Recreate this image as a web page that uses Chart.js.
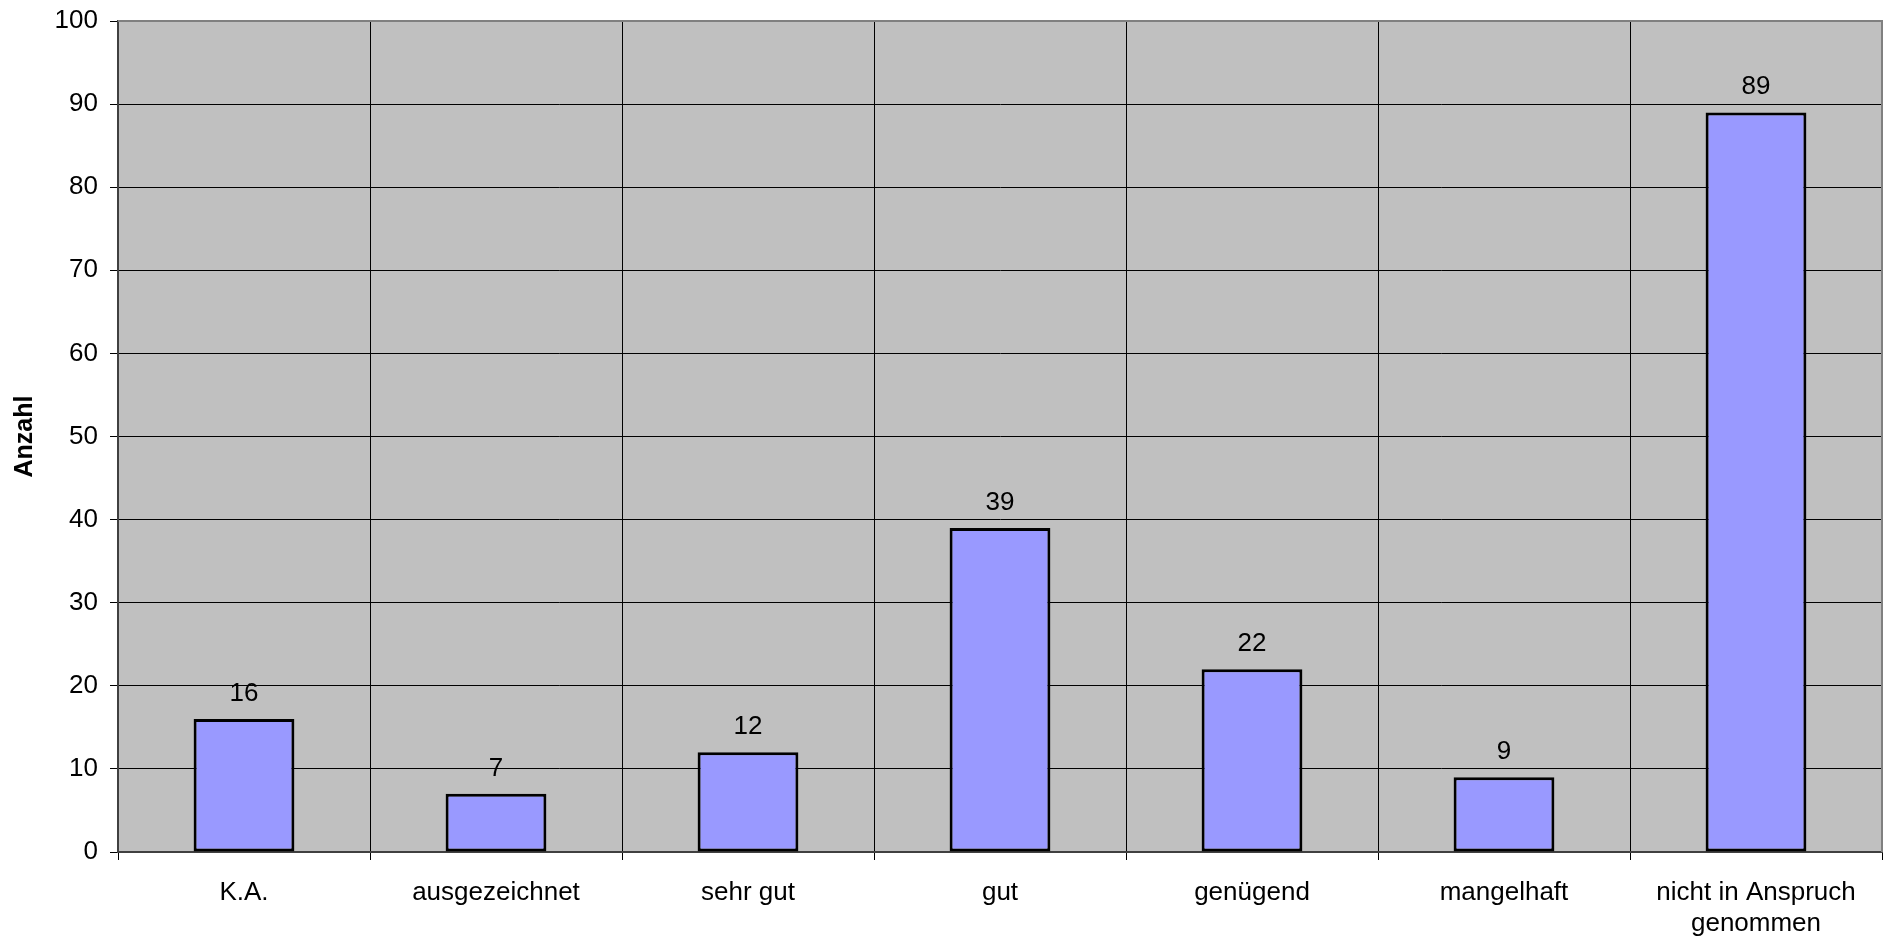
<!DOCTYPE html>
<html>
<head>
<meta charset="utf-8">
<script src="https://cdn.jsdelivr.net/npm/chart.js@4"></script>
<style>
  html, body { margin: 0; padding: 0; background: #fff; }
  #wrap { width: 1887px; height: 941px; position: relative; }
</style>
</head>
<body>
<div id="wrap"><canvas id="chart"></canvas></div>
<script>
const categories = ['K.A.', 'ausgezeichnet', 'sehr gut', 'gut', 'genügend', 'mangelhaft', ['nicht in Anspruch', 'genommen']];
const counts = [16, 7, 12, 39, 22, 9, 89];
const yMin = 0;
const yMax = 100;
const yStep = 10;
const yTitle = 'Anzahl';

const FONT = "'Liberation Sans', Arial, sans-serif";

// grey plot background + grey frame on top/right
const plotFrame = {
    id: 'plotFrame',
    beforeDraw(chart) {
        const { ctx, chartArea: a } = chart;
        ctx.save();
        ctx.fillStyle = '#c0c0c0';
        ctx.fillRect(a.left, a.top, a.right - a.left, a.bottom - a.top);
        ctx.restore();
    },
    afterDraw(chart) {
        const { ctx, chartArea: a } = chart;
        ctx.save();
        ctx.strokeStyle = '#808080';
        ctx.lineWidth = 2;
        ctx.beginPath();
        ctx.moveTo(a.left, a.top);
        ctx.lineTo(a.right, a.top);
        ctx.lineTo(a.right, a.bottom);
        ctx.stroke();
        ctx.restore();
    }
};

// value labels above each bar
const valueLabels = {
    id: 'valueLabels',
    afterDatasetsDraw(chart) {
        const { ctx } = chart;
        const meta = chart.getDatasetMeta(0);
        ctx.save();
        ctx.font = '26px ' + FONT;
        ctx.fillStyle = '#000';
        ctx.textAlign = 'center';
        ctx.textBaseline = 'alphabetic';
        meta.data.forEach((bar, i) => {
            ctx.fillText(String(counts[i]), bar.x, bar.y - 18);
        });
        ctx.restore();
    }
};

new Chart(document.getElementById('chart').getContext('2d'), {
    type: 'bar',
    data: {
        labels: categories,
        datasets: [{
            data: counts,
            backgroundColor: '#9999ff',
            borderColor: '#000',
            borderWidth: 3,
            borderSkipped: false,
            categoryPercentage: 1,
            barPercentage: 0.4
        }]
    },
    options: {
        responsive: true,
        maintainAspectRatio: false,
        animation: false,
        layout: { padding: { top: 21, right: 5, left: 0, bottom: 0 } },
        plugins: {
            legend: { display: false },
            tooltip: { enabled: false }
        },
        scales: {
            x: {
                grid: { color: '#000', lineWidth: 1, tickLength: 8, offset: true },
                border: { color: '#404040', width: 2 },
                ticks: {
                    color: '#000',
                    font: { family: FONT, size: 26, lineHeight: 1.2 },
                    maxRotation: 0,
                    autoSkip: false,
                    padding: 17
                },
                afterFit(scale) { scale.height = 89; }
            },
            y: {
                min: yMin,
                max: yMax,
                grid: { color: '#000', lineWidth: 1, tickLength: 8 },
                border: { color: '#404040', width: 2 },
                ticks: {
                    stepSize: yStep,
                    color: '#000',
                    font: { family: FONT, size: 26, lineHeight: 0.65 },
                    padding: 12
                },
                title: {
                    display: true,
                    text: yTitle,
                    color: '#000',
                    font: { family: FONT, size: 25, weight: 'bold' },
                    padding: { top: 10, bottom: 0 }
                },
                afterFit(scale) { scale.width = 118; }
            }
        }
    },
    plugins: [plotFrame, valueLabels]
});
</script>
</body>
</html>
